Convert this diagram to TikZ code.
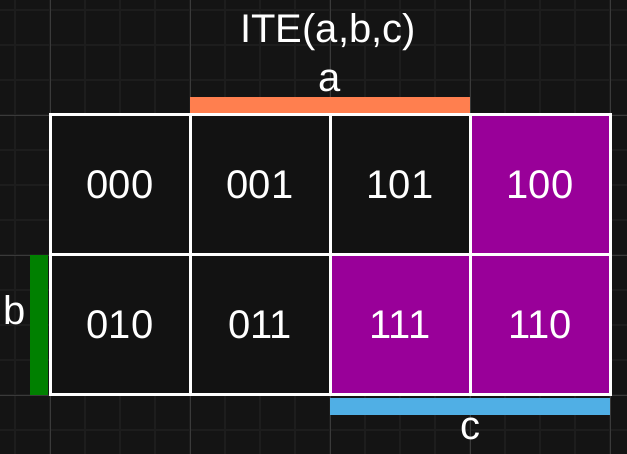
\documentclass[tikz,border=0pt]{standalone}
\usepackage{fontspec}
\setmainfont{Liberation Sans}
\usetikzlibrary{positioning}
\definecolor{canvas}{HTML}{141414}
\definecolor{minorgrid}{HTML}{1D1D1D}
\definecolor{majorgrid}{HTML}{3A3A3A}
\definecolor{cellfill}{HTML}{121212}
\definecolor{truefill}{HTML}{990099}
\definecolor{abar}{HTML}{FF7F4F}
\definecolor{bbar}{HTML}{008000}
\definecolor{cbar}{HTML}{50AFE5}
\begin{document}
\begin{tikzpicture}[
  x=1pt,y=-1pt,
  cell/.style={
    draw=white,
    line width=3pt,
    fill=cellfill,
    inner sep=0pt,
    minimum width=140pt,
    minimum height=140pt,
    text=white,
    font=\fontsize{40}{48}\selectfont
  },
  oncell/.style={cell,fill=truefill},
  bar/.style={inner sep=0pt,draw=none},
  lbl/.style={text=white,inner sep=0pt,font=\fontsize{40}{48}\selectfont}
]
  % canvas and grid
  \fill[canvas] (0,0) rectangle (627,454);
  \useasboundingbox (0,0) rectangle (627,454);
  \foreach \gx in {15,50,...,610} \draw[minorgrid,line width=1.5pt] (\gx,0) -- (\gx,454);
  \foreach \gy in {10,45,...,454} \draw[minorgrid,line width=1.5pt] (0,\gy) -- (627,\gy);
  \foreach \gx in {50,190,330,470,610} \draw[majorgrid,line width=0.8pt] (\gx,0) -- (\gx,454);
  \foreach \gy in {115,255,395} \draw[majorgrid,line width=0.8pt] (0,\gy) -- (627,\gy);

  % map cells
  \node[cell] (c000) at (120,185) {000};
  \node[cell] (c001) at (260,185) {001};
  \node[cell] (c101) at (400,185) {101};
  \node[oncell] (c100) at (540,185) {100};
  \node[cell] (c010) at (120,325) {010};
  \node[cell] (c011) at (260,325) {011};
  \node[oncell] (c111) at (400,325) {111};
  \node[oncell] (c110) at (540,325) {110};

  % variable bars
  \node[bar,fill=abar,minimum width=280pt,minimum height=16pt] (barA) at (330,105) {};
  \node[bar,fill=bbar,minimum width=18pt,minimum height=140pt] (barB) at (39,325) {};
  \node[bar,fill=cbar,minimum width=280pt,minimum height=17pt] (barC) at (470,406.5) {};

  % labels
  \node[lbl,above=5pt of barA] (labA) {a};
  \node[lbl,anchor=base east] (labB) at ([xshift=-4pt]barB.west) {b};
  \node[lbl,below=3pt of barC] (labC) {c};
  \node[lbl,anchor=base] (title) at (328,43) {ITE(a,b,c)};
\end{tikzpicture}
\end{document}
